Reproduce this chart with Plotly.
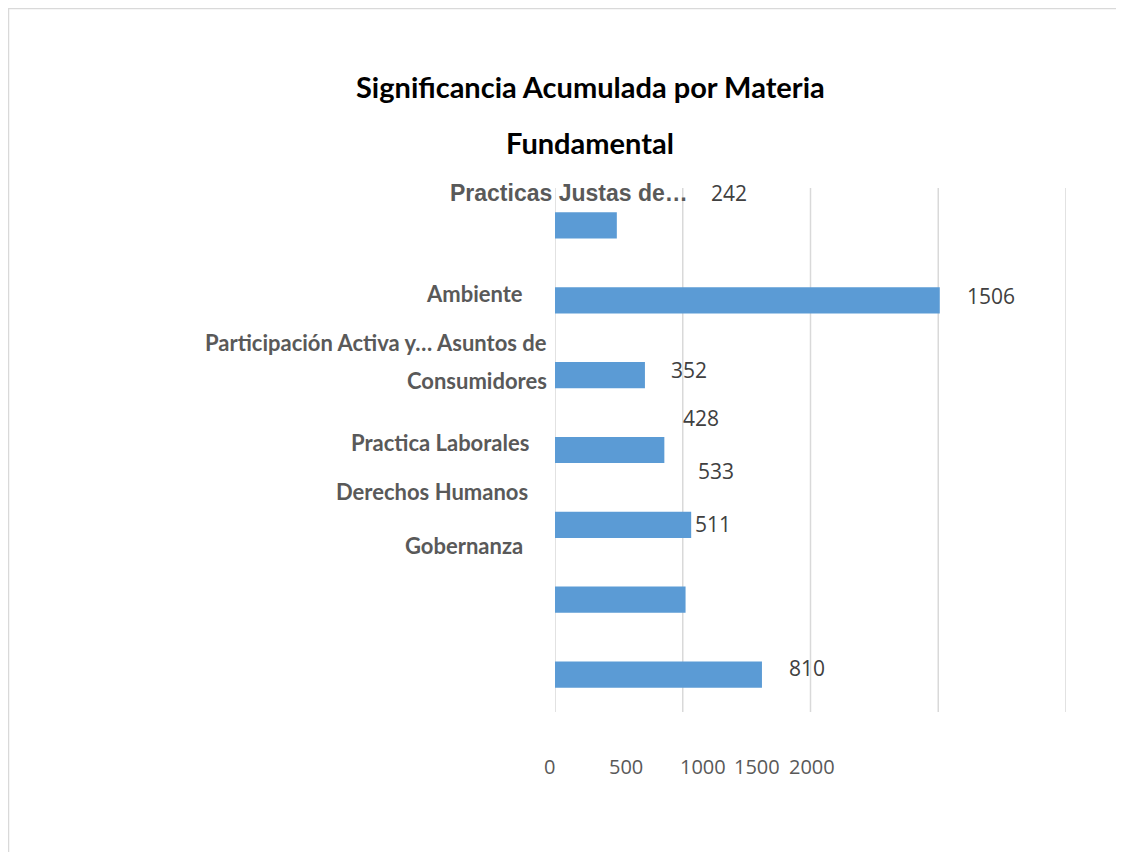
import plotly.graph_objects as go

# ---- data (top to bottom as drawn) ----
category_labels = [
    "Practicas Justas de…",
    "Ambiente",
    "Participación Activa y… Asuntos de",
    "Consumidores",
    "Practica Laborales",
    "Derechos Humanos",
    "Gobernanza",
]
bar_values = [242, 1506, 352, 428, 533, 511, 810]
value_label_texts = ["242", "1506", "352", "428", "533", "511", "810"]
tick_values = [0, 500, 1000, 1500, 2000]
tick_texts = ["0", "500", "1000", "1500", "2000"]
title_lines = ["Significancia Acumulada por Materia", "Fundamental"]

# ---- layout geometry (screen pixels; page has 8px body offset) ----
W, H = 1124, 852
OX, OY = 8, 8
SL, SR, ST, SB = 555, 1066, 188, 712   # plot area on screen
L, R, T, B = SL - OX, SR - OX, ST - OY, SB - OY


def px(x):
    return (x - SL) / (SR - SL)


def py(y):
    return (SB - y) / (SB - ST)


fig = go.Figure()
fig.add_trace(go.Bar(
    x=bar_values,
    y=list(range(len(bar_values))),
    orientation="h",
    width=0.35,
    marker=dict(color="#5b9bd5", line=dict(width=0)),
    hoverinfo="x",
))

ann = []
# title
for txt, yy in zip(title_lines, [86, 142]):
    ann.append(dict(text="<b>" + txt + "</b>", x=px(590), y=py(yy), xref="paper", yref="paper",
                    xanchor="center", yanchor="middle", showarrow=False,
                    font=dict(family="Lato", size=29, color="#000000")))

# category labels (as positioned in the source)
cat_pos = [(690, 193), (525, 293), (549, 342), (549, 380), (531, 442), (530, 491), (525, 545)]
for txt, (xx, yy) in zip(category_labels, cat_pos):
    if txt.startswith("Practicas Justas"):
        fam, size = "Liberation Sans", 23
    else:
        fam, size = "Lato", 22
    ann.append(dict(text="<b>" + txt + "</b>", x=px(xx), y=py(yy), xref="paper", yref="paper",
                    xanchor="right", yanchor="middle", showarrow=False,
                    font=dict(family=fam, size=size, color="#595959")))

# value labels
val_pos = [(729, 193), (991, 296), (689, 370), (701, 418), (716, 471), (713, 524), (807, 668)]
for txt, (xx, yy) in zip(value_label_texts, val_pos):
    ann.append(dict(text=txt, x=px(xx), y=py(yy), xref="paper", yref="paper",
                    xanchor="center", yanchor="middle", showarrow=False,
                    font=dict(family="Open Sans", size=21, color="#404040")))

# tick labels (as positioned in the source)
tick_pos = [549, 626, 703, 757, 812]
for txt, xx in zip(tick_texts, tick_pos):
    ann.append(dict(text=txt, x=px(xx), y=py(766), xref="paper", yref="paper",
                    xanchor="center", yanchor="middle", showarrow=False,
                    font=dict(family="Open Sans", size=20, color="#595959")))

shapes = [
    # outer border (top and left)
    dict(type="line", xref="paper", yref="paper", x0=px(7), x1=px(W + 20), y0=py(8.5), y1=py(8.5),
         line=dict(color="#d9d9d9", width=1.5)),
    dict(type="line", xref="paper", yref="paper", x0=px(8.5), x1=px(8.5), y0=py(8), y1=py(H + 20),
         line=dict(color="#d9d9d9", width=1.5)),
]
# value gridlines including both ends
for tv in tick_values:
    shapes.append(dict(type="line", xref="x", yref="paper", x0=tv, x1=tv, y0=0, y1=1,
                       line=dict(color="#d9d9d9", width=1.5), layer="below"))

fig.update_layout(
    width=W, height=H,
    margin=dict(l=L, r=W - R, t=T, b=H - B, autoexpand=False),
    paper_bgcolor="white", plot_bgcolor="white",
    showlegend=False,
    annotations=ann,
    shapes=shapes,
    xaxis=dict(range=[0, 2000], tickvals=tick_values, showticklabels=False,
               showgrid=False, zeroline=False, showline=False, fixedrange=True),
    yaxis=dict(range=[len(bar_values) - 0.5, -0.5], showticklabels=False, showgrid=False,
               zeroline=False, showline=False, fixedrange=True),
)

fig.write_html("out.html")
